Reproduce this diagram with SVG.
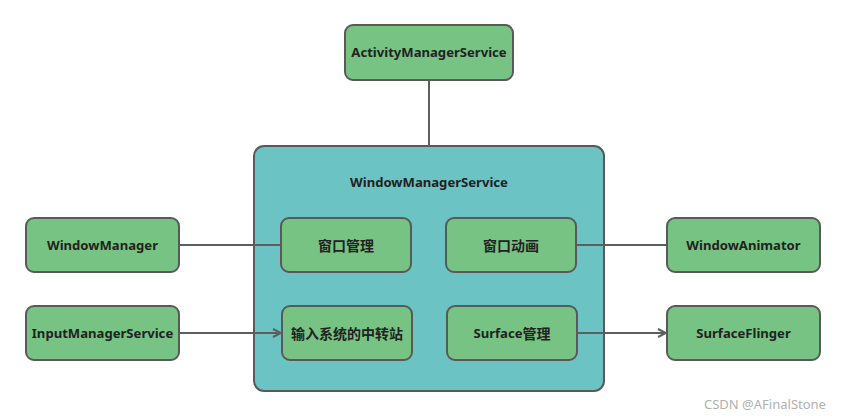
<svg xmlns="http://www.w3.org/2000/svg" width="849" height="419" viewBox="0 0 849 419">
<style>
.n{fill:#77C383;stroke:#595959;stroke-width:2}
.c{fill:#6CC3C4;stroke:#595959;stroke-width:2}
.t{font-family:"Noto Sans","Noto Sans CJK SC",sans-serif;font-weight:bold;font-size:13.1px;fill:#222;text-anchor:middle;dominant-baseline:central}
.k{font-size:14px}
.e{stroke:#5e5e5e;stroke-width:2;fill:none}
</style>
<defs>
<marker id="a" viewBox="0 0 10 10" refX="9" refY="5" markerWidth="10" markerHeight="10" markerUnits="userSpaceOnUse" orient="auto">
<path d="M1,1 L9,5 L1,9" fill="none" stroke="#5e5e5e" stroke-width="2"/>
</marker>
</defs>
<rect width="849" height="419" fill="#fff"/>
<g id="wms"><rect class="c" x="254" y="146" width="350" height="245" rx="10"/><text class="t" x="429" y="182">WindowManagerService</text></g>
<g id="connectors">
<line class="e" x1="429" y1="80" x2="429" y2="146"/>
<line class="e" x1="179" y1="245" x2="281" y2="245"/>
<line class="e" x1="179" y1="333" x2="281" y2="333" marker-end="url(#a)"/>
<line class="e" x1="576" y1="245" x2="667" y2="245"/>
<line class="e" x1="577" y1="333" x2="666" y2="333" marker-end="url(#a)"/>
</g>
<g id="ams"><rect class="n" x="345" y="25" width="168" height="55" rx="8"/><text class="t" x="429" y="52">ActivityManagerService</text></g>
<g id="wm"><rect class="n" x="26" y="218" width="153" height="54" rx="8"/><text class="t" x="102.5" y="245">WindowManager</text></g>
<g id="ims"><rect class="n" x="26" y="306" width="153" height="54" rx="8"/><text class="t" x="102.5" y="333">InputManagerService</text></g>
<g id="wa"><rect class="n" x="667" y="218" width="153" height="54" rx="8"/><text class="t" x="743.5" y="245">WindowAnimator</text></g>
<g id="sf"><rect class="n" x="667" y="306" width="153" height="54" rx="8"/><text class="t" x="743.5" y="333">SurfaceFlinger</text></g>
<g id="wmgr"><rect class="n" x="281" y="218" width="130" height="54" rx="8"/><text class="t k" x="346" y="245">窗口管理</text></g>
<g id="wanim"><rect class="n" x="446" y="218" width="130" height="54" rx="8"/><text class="t k" x="511" y="245">窗口动画</text></g>
<g id="input"><rect class="n" x="282" y="306" width="130" height="54" rx="8"/><text class="t k" x="347" y="333">输入系统的中转站</text></g>
<g id="surf"><rect class="n" x="447" y="306" width="130" height="54" rx="8"/><text class="t" x="512" y="333">Surface<tspan class="k">管理</tspan></text></g>
<text x="765" y="404" font-family="'Noto Sans',sans-serif" font-size="13" fill="#b0b0b0" text-anchor="middle" dominant-baseline="central">CSDN @AFinalStone</text>
</svg>
